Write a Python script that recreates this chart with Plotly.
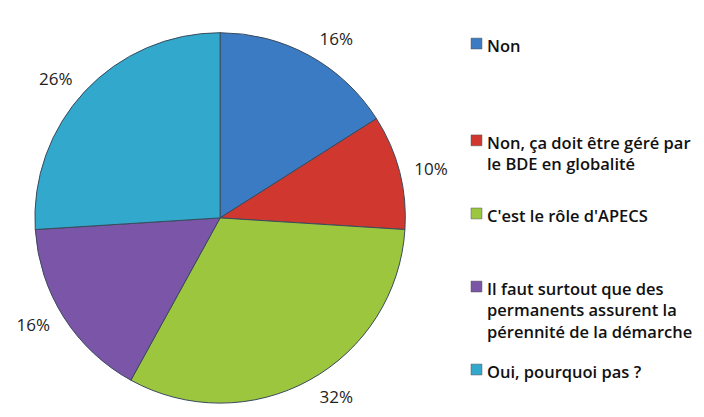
import plotly.graph_objects as go

# the page body adds an 8px margin, so the figure is a bit smaller than the window
OX, OY = 8, 8
W, H = 704 - OX, 417 - OY

labels = [
    "Non",
    "Non, ça doit être géré par<br>le BDE en globalité",
    "C'est le rôle d'APECS",
    "Il faut surtout que des<br>permanents assurent la<br>pérennité de la démarche",
    "Oui, pourquoi pas ?",
]
values = [16, 10, 32, 16, 26]
colors = ["#3b7bc4", "#d0382f", "#9dc63f", "#7b55a8", "#32a8cc"]
# screen y (px) of the first line of each legend entry
legend_y = [44, 142, 216, 290, 374]

FONT = "'Open Sans', Lato, sans-serif"
LEG_SIZE = 16.5


def px_x(x):
    return (x - OX) / W


def px_y(y):
    return 1 - (y - OY) / H


fig = go.Figure()

# invisible, slightly larger pie only carries the percentage labels
fig.add_trace(go.Pie(
    labels=labels,
    values=values,
    sort=False,
    direction="clockwise",
    rotation=0,
    marker=dict(colors=["rgba(0,0,0,0)"] * len(values), line=dict(width=0)),
    texttemplate="%{value}%",
    textposition="outside",
    textfont=dict(family=FONT, size=17, color="#222222"),
    hoverinfo="skip",
    showlegend=False,
    domain=dict(x=[px_x(21), px_x(415)], y=[px_y(417), px_y(23)]),
))

fig.add_trace(go.Pie(
    labels=labels,
    values=values,
    sort=False,
    direction="clockwise",
    rotation=0,
    marker=dict(colors=colors, line=dict(color="#3a4a5c", width=1)),
    textinfo="none",
    hoverinfo="label+percent",
    showlegend=False,
    domain=dict(x=[px_x(31), px_x(405)], y=[px_y(408), px_y(33)]),
))

# hand-built legend, one entry per slice (spacing is irregular in the source)
for lab, col, ly in zip(labels, colors, legend_y):
    fig.add_shape(
        type="rect", xref="paper", yref="paper",
        x0=px_x(470), x1=px_x(481), y0=px_y(ly + 5.5), y1=px_y(ly - 5.5),
        fillcolor=col, line=dict(color="#555555", width=0.5),
    )
    fig.add_annotation(
        x=px_x(484), y=px_y(ly - LEG_SIZE * 0.65 - 1), xref="paper", yref="paper",
        xanchor="left", yanchor="top", align="left", showarrow=False,
        text=lab, font=dict(family=FONT, size=LEG_SIZE, color="#111111", weight=600),
    )

fig.update_layout(
    width=W, height=H,
    margin=dict(l=0, r=0, t=0, b=0),
    paper_bgcolor="white",
    plot_bgcolor="white",
)
fig.write_html("out.html")
